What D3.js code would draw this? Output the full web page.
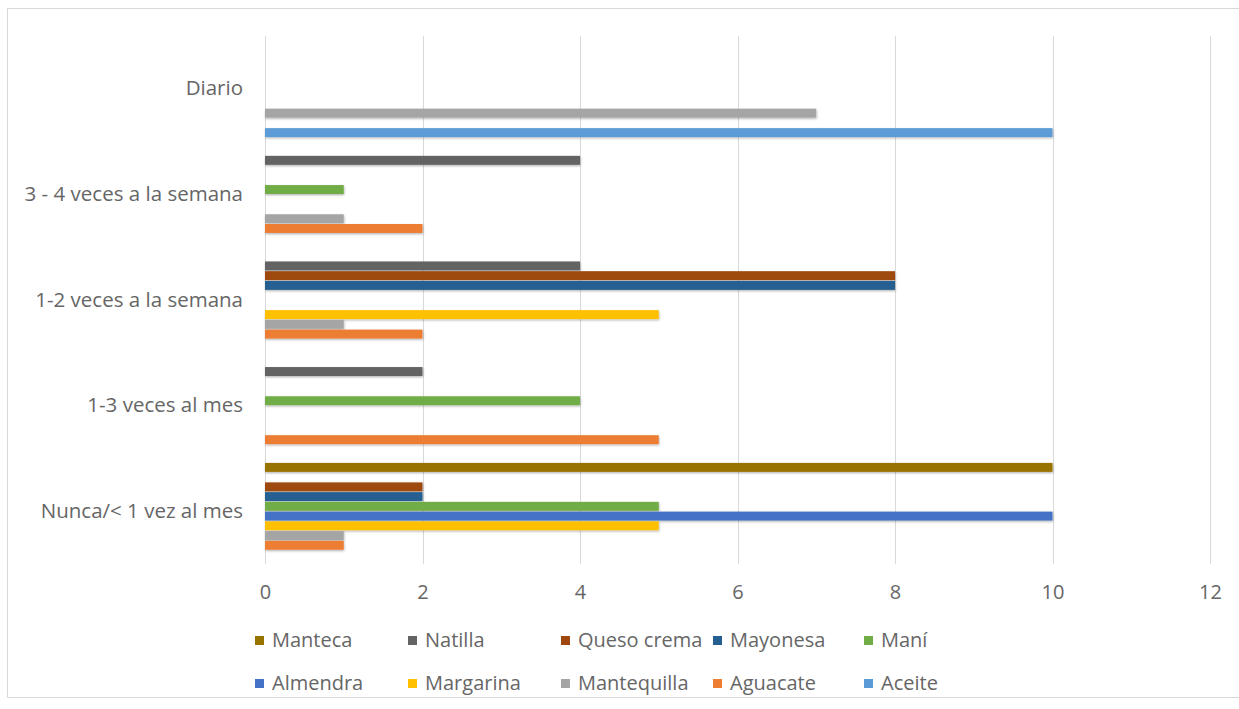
<!DOCTYPE html>
<html>
<head>
<meta charset="utf-8">
<script src="https://cdn.jsdelivr.net/npm/d3@7"></script>
<style>
  html, body { margin: 0; padding: 0; background: #fff; }
  svg text { font-family: "Open Sans", "Noto Sans", sans-serif; fill: #666; }
</style>
</head>
<body>
<div id="chart"></div>
<script>
// ── Data ──
const categories = [
  "Nunca/< 1 vez al mes",
  "1-3 veces al mes",
  "1-2 veces a la semana",
  "3 - 4 veces a la semana",
  "Diario",
];

// legend order (also top → bottom inside each group)
const seriesNames = [
  "Manteca", "Natilla", "Queso crema", "Mayonesa", "Maní",
  "Almendra", "Margarina", "Mantequilla", "Aguacate", "Aceite",
];

// values follow the categories order
const manteca     = [10, 0, 0, 0, 0];
const natilla     = [0, 2, 4, 4, 0];
const quesoCrema  = [2, 0, 8, 0, 0];
const mayonesa    = [2, 0, 8, 0, 0];
const mani        = [5, 4, 0, 1, 0];
const almendra    = [10, 0, 0, 0, 0];
const margarina   = [5, 0, 5, 0, 0];
const mantequilla = [1, 0, 1, 1, 7];
const aguacate    = [1, 5, 2, 2, 0];
const aceite      = [0, 0, 0, 0, 10];

const xTicks = [0, 2, 4, 6, 8, 10, 12];

const seriesValues = [
  manteca, natilla, quesoCrema, mayonesa, mani,
  almendra, margarina, mantequilla, aguacate, aceite,
];

const colors = [
  "#997300", "#636363", "#9E480E", "#255E91", "#70AD47",
  "#4472C4", "#FFC000", "#A5A5A5", "#ED7D31", "#5B9BD5",
];

// ── Layout ──
const W = 1239, H = 709;
const M = { t: 36, r: 29, b: 145, l: 265 };
const w = 1210 - M.l;
const h = 564 - M.t;

const svg = d3.select("#chart").append("svg")
  .attr("width", W).attr("height", H);

// chart border
svg.append("rect")
  .attr("x", 7.5).attr("y", 8.5)
  .attr("width", 1260).attr("height", 689)
  .attr("fill", "none").attr("stroke", "#d9d9d9");

const defs = svg.append("defs");
defs.append("filter").attr("id", "shadow")
  .attr("x", "-5%").attr("y", "-50%").attr("width", "110%").attr("height", "200%")
  .append("feDropShadow")
  .attr("dx", 0.5).attr("dy", 1.2).attr("stdDeviation", 0.8)
  .attr("flood-color", "#000").attr("flood-opacity", 0.3);

const g = svg.append("g").attr("transform", `translate(${M.l},${M.t})`);

const x = d3.scaleLinear().domain([0, 12]).range([0, w]);

const y = d3.scaleBand()
  .domain(categories.slice().reverse())
  .range([0, h])
  .paddingInner(0.078)
  .paddingOuter(0.039);

const yInner = d3.scaleBand()
  .domain(seriesNames)
  .range([0, y.bandwidth()]);

// ── Grid ──
g.append("g")
  .selectAll("line")
  .data(xTicks)
  .join("line")
  .attr("x1", (d) => Math.round(x(d)) + 0.5)
  .attr("x2", (d) => Math.round(x(d)) + 0.5)
  .attr("y1", 0)
  .attr("y2", h)
  .attr("stroke", "#d9d9d9")
  .attr("stroke-width", 1);

// ── X axis labels ──
const xAxis = g.append("g")
  .attr("transform", `translate(0,${h})`)
  .call(d3.axisBottom(x).tickValues(xTicks).tickSize(0).tickPadding(21).tickFormat(d3.format("d")));
xAxis.select(".domain").remove();
xAxis.selectAll("text")
  .attr("font-size", "20px")
  .style("font-family", '"Open Sans", sans-serif')
  .attr("fill", "#666");

// ── Y axis labels ──
const yAxis = g.append("g")
  .call(d3.axisLeft(y).tickSize(0).tickPadding(22));
yAxis.select(".domain").remove();
yAxis.selectAll("text")
  .attr("font-size", "20.5px")
  .style("font-family", '"Open Sans", sans-serif')
  .attr("fill", "#666");

// ── Bars ──
const barData = [];
seriesNames.forEach((s, si) => {
  categories.forEach((c, ci) => {
    barData.push({ series: s, cat: c, value: seriesValues[si][ci], color: colors[si] });
  });
});

const barH = yInner.bandwidth() - 0.8;

g.append("g")
  .selectAll("rect")
  .data(barData.filter((d) => d.value > 0))
  .join("rect")
  .attr("x", x(0))
  .attr("y", (d) => y(d.cat) + yInner(d.series) + (yInner.bandwidth() - barH) / 2)
  .attr("width", (d) => x(d.value) - x(0))
  .attr("height", barH)
  .attr("fill", (d) => d.color)
  .attr("filter", "url(#shadow)");

// ── Legend ──
const legColX = [255, 408, 561, 713, 864];
const legRowY = [640, 683];

const leg = svg.append("g")
  .selectAll("g")
  .data(seriesNames)
  .join("g")
  .attr("transform", (d, i) => `translate(${legColX[i % 5]},${legRowY[Math.floor(i / 5)]})`);

leg.append("rect")
  .attr("x", 0).attr("y", -4)
  .attr("width", 9).attr("height", 9)
  .attr("fill", (d, i) => colors[i]);

leg.append("text")
  .attr("x", 17)
  .attr("y", 0)
  .attr("dy", "0.35em")
  .attr("font-size", "20px")
  .text((d) => d);
</script>
</body>
</html>
